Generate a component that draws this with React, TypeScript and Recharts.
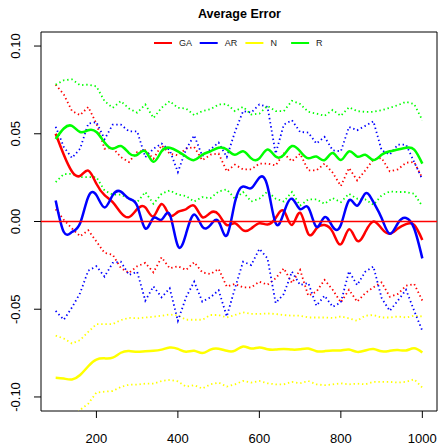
import React from 'react';
import { LineChart, Line, XAxis, YAxis, ReferenceArea, ReferenceLine } from 'recharts';

const xs = [100,120,140,160,180,200,220,240,260,280,300,320,340,360,380,400,420,440,460,480,500,520,540,560,580,600,620,640,660,680,700,720,740,760,780,800,820,840,860,880,900,920,940,960,980,1000];

const gaMean = [0.050,0.038,0.0285,0.026,0.029,0.0215,0.015,0.011,0.005,0.0025,0.007,0.008,0.003,0.010,0.0035,0.0055,0.007,0.009,0.0025,0.005,0.004,-0.002,-0.001,-0.005,-0.004,-0.001,-0.0017,0.002,0.006,-0.002,0.005,-0.007,-0.004,-0.002,-0.006,-0.013,-0.0045,-0.011,-0.006,0.000,-0.004,-0.007,-0.004,-0.0015,-0.002,-0.0105];
const gaUpper = [0.078,0.0724,0.063,0.0606,0.0653,0.0558,0.0415,0.0419,0.0367,0.0339,0.0396,0.0406,0.0358,0.0434,0.0387,0.0377,0.0415,0.0425,0.0349,0.0381,0.0387,0.0286,0.0324,0.0297,0.0297,0.033,0.033,0.032,0.0387,0.0343,0.0387,0.0291,0.0291,0.033,0.0278,0.0202,0.0305,0.0234,0.0291,0.0354,0.0362,0.0286,0.0297,0.0335,0.0339,0.0248];
const gaLower = [0.007,0.001,-0.004,-0.0084,-0.005,-0.0114,-0.0179,-0.0189,-0.0265,-0.0293,-0.0255,-0.0236,-0.029,-0.0204,-0.0267,-0.0255,-0.0276,-0.0232,-0.029,-0.0299,-0.027,-0.0371,-0.0356,-0.0375,-0.0375,-0.0343,-0.036,-0.0324,-0.0267,-0.035,-0.0276,-0.0423,-0.04,-0.0333,-0.0389,-0.0461,-0.0389,-0.0457,-0.0408,-0.0375,-0.0347,-0.0429,-0.0413,-0.0366,-0.0356,-0.0451];

const arMean = [0.012,-0.006,-0.006,-0.001,0.014,0.015,0.008,0.015,0.017,0.013,0.009,-0.004,0.002,0.001,0.004,-0.014,-0.007,0.004,-0.003,-0.002,0.000,-0.008,0.011,0.020,0.019,0.025,0.020,-0.001,0.005,0.013,0.007,0.008,-0.003,0.0025,-0.003,-0.002,0.012,0.009,0.016,0.011,0.002,-0.007,-0.001,0.002,-0.004,-0.021];
const arUpper = [0.054,0.0425,0.0362,0.0415,0.0558,0.0567,0.0469,0.0552,0.0552,0.0514,0.0514,0.0367,0.0415,0.0444,0.0406,0.0282,0.0411,0.0491,0.0373,0.0411,0.045,0.0367,0.051,0.0629,0.0621,0.0667,0.0653,0.0387,0.0552,0.0577,0.051,0.0507,0.0444,0.0482,0.0406,0.040,0.0539,0.052,0.0545,0.0571,0.0406,0.0381,0.0438,0.0438,0.0339,0.024];
const arLower = [-0.051,-0.056,-0.049,-0.0408,-0.028,-0.0255,-0.0314,-0.0236,-0.0229,-0.0305,-0.0286,-0.0451,-0.037,-0.0432,-0.0381,-0.0566,-0.0432,-0.0343,-0.0457,-0.0432,-0.0392,-0.0541,-0.0381,-0.0229,-0.0248,-0.0156,-0.021,-0.0465,-0.0413,-0.0286,-0.0362,-0.035,-0.048,-0.0423,-0.0486,-0.0461,-0.0284,-0.0362,-0.0286,-0.0257,-0.0436,-0.0509,-0.0451,-0.0389,-0.0509,-0.0623];

const nMean = [-0.089,-0.0895,-0.090,-0.0875,-0.0825,-0.0787,-0.078,-0.0776,-0.0748,-0.0738,-0.0743,-0.0739,-0.0737,-0.073,-0.0718,-0.0726,-0.0742,-0.0737,-0.075,-0.073,-0.0725,-0.0737,-0.0736,-0.0712,-0.0724,-0.0718,-0.0728,-0.073,-0.0726,-0.073,-0.0728,-0.0724,-0.0739,-0.0739,-0.0735,-0.0735,-0.073,-0.0743,-0.0735,-0.0727,-0.074,-0.0737,-0.0733,-0.0735,-0.0723,-0.0747];
const nUpper = [-0.065,-0.0667,-0.0695,-0.0676,-0.0629,-0.0585,-0.0585,-0.0585,-0.0562,-0.0549,-0.0552,-0.0547,-0.0543,-0.0537,-0.053,-0.0535,-0.056,-0.056,-0.056,-0.0533,-0.0533,-0.0547,-0.0533,-0.0518,-0.0527,-0.0527,-0.0524,-0.0527,-0.0533,-0.0537,-0.0537,-0.0547,-0.0547,-0.0547,-0.055,-0.0541,-0.0552,-0.0566,-0.0537,-0.0533,-0.0547,-0.0547,-0.0541,-0.0547,-0.0537,-0.0541];
const nLower = [-0.112,-0.113,-0.112,-0.1074,-0.1038,-0.0975,-0.097,-0.0966,-0.0943,-0.093,-0.093,-0.0924,-0.0924,-0.0909,-0.0903,-0.0911,-0.0941,-0.0933,-0.0952,-0.0928,-0.0918,-0.0941,-0.0928,-0.0909,-0.0918,-0.0909,-0.0922,-0.0928,-0.0928,-0.0914,-0.0922,-0.0909,-0.0928,-0.0933,-0.0928,-0.0922,-0.0928,-0.0924,-0.0928,-0.0914,-0.0914,-0.0914,-0.0918,-0.0914,-0.0899,-0.0947];

const rMean = [0.047,0.053,0.0545,0.051,0.052,0.051,0.045,0.0415,0.043,0.039,0.038,0.040,0.034,0.040,0.042,0.040,0.037,0.035,0.038,0.040,0.042,0.041,0.038,0.040,0.036,0.036,0.041,0.037,0.038,0.043,0.040,0.036,0.037,0.035,0.039,0.035,0.040,0.037,0.038,0.035,0.038,0.040,0.041,0.042,0.041,0.033];
const rUpper = [0.078,0.0805,0.081,0.0777,0.078,0.077,0.0686,0.0648,0.0686,0.0644,0.062,0.0667,0.059,0.0648,0.0686,0.0648,0.0644,0.0606,0.0629,0.064,0.0667,0.0669,0.0629,0.0653,0.061,0.0615,0.0659,0.0629,0.0629,0.0688,0.067,0.0625,0.0615,0.0602,0.0636,0.0602,0.0651,0.0629,0.0625,0.0625,0.0634,0.0648,0.0663,0.0682,0.0669,0.0577];
const rLower = [0.0225,0.027,0.0272,0.0253,0.0253,0.0253,0.0177,0.0153,0.0153,0.013,0.011,0.0168,0.0101,0.0158,0.0177,0.0153,0.0145,0.0114,0.0139,0.0133,0.0171,0.0183,0.013,0.0168,0.0114,0.013,0.0171,0.013,0.0114,0.0168,0.0091,0.0126,0.0126,0.0101,0.0133,0.011,0.0158,0.013,0.0126,0.0095,0.0149,0.0171,0.0168,0.0168,0.0158,0.0087];

const zeroLevel = 0;
const xTicks = [200, 400, 600, 800, 1000];
const yTicks = [-0.1, -0.05, 0, 0.05, 0.1];
const legendLabels = ['GA', 'AR', 'N', 'R'];
const legendColors = ['#FF0000', '#0000FF', '#FFFF00', '#00FF00'];

const seriesDefs = [
  { key: 'ga', color: '#FF0000', mean: gaMean, upper: gaUpper, lower: gaLower },
  { key: 'ar', color: '#0000FF', mean: arMean, upper: arUpper, lower: arLower },
  { key: 'n', color: '#FFFF00', mean: nMean, upper: nUpper, lower: nLower },
  { key: 'r', color: '#00FF00', mean: rMean, upper: rUpper, lower: rLower },
];

const data = xs.map((x, i) => {
  const row: Record<string, number> = { x };
  seriesDefs.forEach((s) => {
    row[s.key + 'Mean'] = s.mean[i];
    row[s.key + 'Upper'] = s.upper[i];
    row[s.key + 'Lower'] = s.lower[i];
  });
  return row;
});

const FONT = '"Liberation Sans", Arial, Helvetica, sans-serif';

const XTick = (props: any) => {
  const { x, y, payload } = props;
  return (
    <text x={x} y={y + 23} textAnchor="middle" fontSize={13} fontFamily={FONT} fill="#000">
      {payload.value}
    </text>
  );
};

const YTick = (props: any) => {
  const { x, y, payload } = props;
  const tx = x - 12;
  return (
    <text x={tx} y={y} textAnchor="middle" fontSize={13} fontFamily={FONT} fill="#000" transform={`rotate(-90, ${tx}, ${y})`}>
      {Number(payload.value).toFixed(2)}
    </text>
  );
};

export default function App() {
  return (
    <div style={{ position: 'absolute', left: 0, top: 0, width: 442, height: 445, background: '#fff' }}>
      <LineChart width={442} height={445} data={data} margin={{ top: 32, right: 5, bottom: 0, left: 0 }}>
        <XAxis
          dataKey="x"
          type="number"
          domain={[64, 1036]}
          ticks={xTicks}
          allowDataOverflow
          height={34}
          axisLine={false}
          tickSize={7}
          tickLine={{ stroke: '#000' }}
          tick={<XTick />}
          interval={0}
        />
        <YAxis
          type="number"
          domain={[-0.108, 0.108]}
          ticks={yTicks}
          allowDataOverflow
          width={41}
          axisLine={false}
          tickSize={7}
          tickLine={{ stroke: '#000' }}
          tick={<YTick />}
          interval={0}
        />
        <ReferenceArea x1={64} x2={1036} y1={-0.108} y2={0.108} fill="none" stroke="#000" strokeWidth={1} fillOpacity={0} />
        {seriesDefs.map((s) => (
          <Line key={s.key + 'U'} dataKey={s.key + 'Upper'} type="linear" stroke={s.color} strokeWidth={1.8} strokeDasharray="1.4 2.8" dot={false} isAnimationActive={false} />
        ))}
        {seriesDefs.map((s) => (
          <Line key={s.key + 'L'} dataKey={s.key + 'Lower'} type="linear" stroke={s.color} strokeWidth={1.8} strokeDasharray="1.4 2.8" dot={false} isAnimationActive={false} />
        ))}
        {seriesDefs.map((s) => (
          <Line key={s.key + 'M'} dataKey={s.key + 'Mean'} type="natural" stroke={s.color} strokeWidth={2.5} dot={false} isAnimationActive={false} />
        ))}
        <ReferenceLine y={zeroLevel} stroke="#FF0000" strokeWidth={1.6} strokeOpacity={1} />
      </LineChart>
      <svg width={442} height={445} style={{ position: 'absolute', left: 0, top: 0, pointerEvents: 'none' }}>
        <text x={239.5} y={18} textAnchor="middle" fontSize={12.5} fontWeight="bold" fontFamily={FONT} fill="#000">
          Average Error
        </text>
        {legendLabels.map((lab, i) => {
          const lx = 154 + i * 45.7;
          return (
            <g key={lab}>
              <line x1={lx} x2={lx + 18} y1={43} y2={43} stroke={legendColors[i]} strokeWidth={2} />
              <text x={lx + 25} y={46} fontSize={9} fontFamily={FONT} fill="#222">
                {lab}
              </text>
            </g>
          );
        })}
      </svg>
    </div>
  );
}
